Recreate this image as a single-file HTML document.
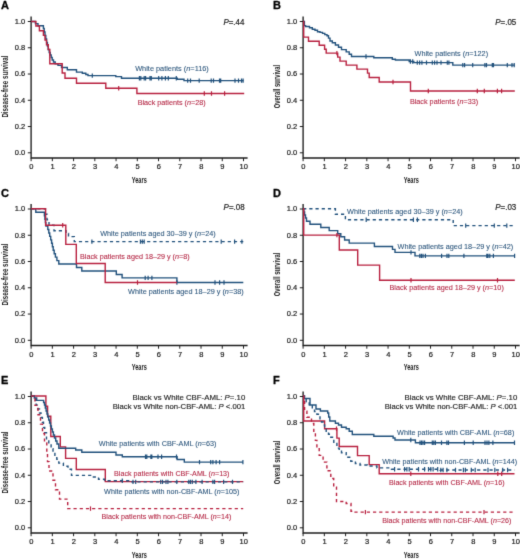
<!DOCTYPE html>
<html><head><meta charset="utf-8"><style>
html,body{margin:0;padding:0;background:#fff;width:520px;height:560px;overflow:hidden}
svg{display:block}
text{font-family:"Liberation Sans", sans-serif}
.tk{font-size:7.5px;fill:#1a1a1a;stroke:#1a1a1a;stroke-width:0.2px}
.ax{font-size:9px;fill:#1a1a1a;font-weight:bold}
.ltr{font-size:11px;font-weight:bold;fill:#000;stroke:#000;stroke-width:0.3px}
.lb{font-size:7.4px;stroke-width:0.1px}
.pv{font-size:8.3px;stroke:#222;stroke-width:0.2px}
.an{font-size:7.8px;stroke:#222;stroke-width:0.15px}
</style></head><body>
<svg width="520" height="560" viewBox="0 0 520 560">
<defs><filter id="bl" x="0" y="0" width="520" height="560" filterUnits="userSpaceOnUse" color-interpolation-filters="sRGB"><feConvolveMatrix order="3" kernelMatrix="0.0114 0.0841 0.0114 0.0841 0.6178 0.0841 0.0114 0.0841 0.0114" edgeMode="duplicate" preserveAlpha="true"/></filter></defs>
<g filter="url(#bl)">
<rect width="520" height="560" fill="#fff"/>
<path d="M31.1 16.4V158H247.6" fill="none" stroke="#1e1e1e" stroke-width="1.35"/>
<text x="25.2" y="155.25" text-anchor="end" class="tk">0.0</text>
<text x="25.2" y="128.99" text-anchor="end" class="tk">0.2</text>
<text x="25.2" y="102.73" text-anchor="end" class="tk">0.4</text>
<text x="25.2" y="76.47" text-anchor="end" class="tk">0.6</text>
<text x="25.2" y="50.21" text-anchor="end" class="tk">0.8</text>
<text x="25.2" y="23.95" text-anchor="end" class="tk">1.0</text>
<text x="31.3" y="169.4" text-anchor="middle" class="tk">0</text>
<text x="52.54" y="169.4" text-anchor="middle" class="tk">1</text>
<text x="73.78" y="169.4" text-anchor="middle" class="tk">2</text>
<text x="95.02" y="169.4" text-anchor="middle" class="tk">3</text>
<text x="116.26" y="169.4" text-anchor="middle" class="tk">4</text>
<text x="137.5" y="169.4" text-anchor="middle" class="tk">5</text>
<text x="158.74" y="169.4" text-anchor="middle" class="tk">6</text>
<text x="179.98" y="169.4" text-anchor="middle" class="tk">7</text>
<text x="201.22" y="169.4" text-anchor="middle" class="tk">8</text>
<text x="222.46" y="169.4" text-anchor="middle" class="tk">9</text>
<text x="243.7" y="169.4" text-anchor="middle" class="tk">10</text>
<path d="M27.8 152.8H31.1M27.8 126.54H31.1M27.8 100.28H31.1M27.8 74.02H31.1M27.8 47.76H31.1M27.8 21.5H31.1M31.1 158V161.2M52.34 158V161.2M73.58 158V161.2M94.82 158V161.2M116.06 158V161.2M137.3 158V161.2M158.54 158V161.2M179.78 158V161.2M201.02 158V161.2M222.26 158V161.2M243.5 158V161.2" stroke="#1e1e1e" stroke-width="1"/>
<text x="139.3" y="182.5" text-anchor="middle" class="ax" style="font-size:9.8px" textLength="15" lengthAdjust="spacingAndGlyphs">Years</text>
<text transform="translate(8.1 86.6) rotate(-90)" x="0" y="0" text-anchor="middle" class="ax" textLength="62" lengthAdjust="spacingAndGlyphs">Disease-free survival</text>
<text x="0.9" y="9.35" class="ltr">A</text>
<path d="M303.1 16.4V158H519.6" fill="none" stroke="#1e1e1e" stroke-width="1.35"/>
<text x="297.2" y="155.25" text-anchor="end" class="tk">0.0</text>
<text x="297.2" y="128.99" text-anchor="end" class="tk">0.2</text>
<text x="297.2" y="102.73" text-anchor="end" class="tk">0.4</text>
<text x="297.2" y="76.47" text-anchor="end" class="tk">0.6</text>
<text x="297.2" y="50.21" text-anchor="end" class="tk">0.8</text>
<text x="297.2" y="23.95" text-anchor="end" class="tk">1.0</text>
<text x="303.3" y="169.4" text-anchor="middle" class="tk">0</text>
<text x="324.54" y="169.4" text-anchor="middle" class="tk">1</text>
<text x="345.78" y="169.4" text-anchor="middle" class="tk">2</text>
<text x="367.02" y="169.4" text-anchor="middle" class="tk">3</text>
<text x="388.26" y="169.4" text-anchor="middle" class="tk">4</text>
<text x="409.5" y="169.4" text-anchor="middle" class="tk">5</text>
<text x="430.74" y="169.4" text-anchor="middle" class="tk">6</text>
<text x="451.98" y="169.4" text-anchor="middle" class="tk">7</text>
<text x="473.22" y="169.4" text-anchor="middle" class="tk">8</text>
<text x="494.46" y="169.4" text-anchor="middle" class="tk">9</text>
<text x="515.7" y="169.4" text-anchor="middle" class="tk">10</text>
<path d="M299.8 152.8H303.1M299.8 126.54H303.1M299.8 100.28H303.1M299.8 74.02H303.1M299.8 47.76H303.1M299.8 21.5H303.1M303.1 158V161.2M324.34 158V161.2M345.58 158V161.2M366.82 158V161.2M388.06 158V161.2M409.3 158V161.2M430.54 158V161.2M451.78 158V161.2M473.02 158V161.2M494.26 158V161.2M515.5 158V161.2" stroke="#1e1e1e" stroke-width="1"/>
<text x="411.3" y="182.5" text-anchor="middle" class="ax" style="font-size:9.8px" textLength="15" lengthAdjust="spacingAndGlyphs">Years</text>
<text transform="translate(280.1 86.6) rotate(-90)" x="0" y="0" text-anchor="middle" class="ax" textLength="43.5" lengthAdjust="spacingAndGlyphs">Overall survival</text>
<text x="272.9" y="9.35" class="ltr">B</text>
<path d="M31.1 203.9V345.5H247.6" fill="none" stroke="#1e1e1e" stroke-width="1.35"/>
<text x="25.2" y="342.75" text-anchor="end" class="tk">0.0</text>
<text x="25.2" y="316.49" text-anchor="end" class="tk">0.2</text>
<text x="25.2" y="290.23" text-anchor="end" class="tk">0.4</text>
<text x="25.2" y="263.97" text-anchor="end" class="tk">0.6</text>
<text x="25.2" y="237.71" text-anchor="end" class="tk">0.8</text>
<text x="25.2" y="211.45" text-anchor="end" class="tk">1.0</text>
<text x="31.3" y="356.9" text-anchor="middle" class="tk">0</text>
<text x="52.54" y="356.9" text-anchor="middle" class="tk">1</text>
<text x="73.78" y="356.9" text-anchor="middle" class="tk">2</text>
<text x="95.02" y="356.9" text-anchor="middle" class="tk">3</text>
<text x="116.26" y="356.9" text-anchor="middle" class="tk">4</text>
<text x="137.5" y="356.9" text-anchor="middle" class="tk">5</text>
<text x="158.74" y="356.9" text-anchor="middle" class="tk">6</text>
<text x="179.98" y="356.9" text-anchor="middle" class="tk">7</text>
<text x="201.22" y="356.9" text-anchor="middle" class="tk">8</text>
<text x="222.46" y="356.9" text-anchor="middle" class="tk">9</text>
<text x="243.7" y="356.9" text-anchor="middle" class="tk">10</text>
<path d="M27.8 340.3H31.1M27.8 314.04H31.1M27.8 287.78H31.1M27.8 261.52H31.1M27.8 235.26H31.1M27.8 209H31.1M31.1 345.5V348.7M52.34 345.5V348.7M73.58 345.5V348.7M94.82 345.5V348.7M116.06 345.5V348.7M137.3 345.5V348.7M158.54 345.5V348.7M179.78 345.5V348.7M201.02 345.5V348.7M222.26 345.5V348.7M243.5 345.5V348.7" stroke="#1e1e1e" stroke-width="1"/>
<text x="139.3" y="370" text-anchor="middle" class="ax" style="font-size:9.8px" textLength="15" lengthAdjust="spacingAndGlyphs">Years</text>
<text transform="translate(8.1 274.5) rotate(-90)" x="0" y="0" text-anchor="middle" class="ax" textLength="62" lengthAdjust="spacingAndGlyphs">Disease-free survival</text>
<text x="0.9" y="196.85" class="ltr">C</text>
<path d="M303.1 203.9V345.5H519.6" fill="none" stroke="#1e1e1e" stroke-width="1.35"/>
<text x="297.2" y="342.75" text-anchor="end" class="tk">0.0</text>
<text x="297.2" y="316.49" text-anchor="end" class="tk">0.2</text>
<text x="297.2" y="290.23" text-anchor="end" class="tk">0.4</text>
<text x="297.2" y="263.97" text-anchor="end" class="tk">0.6</text>
<text x="297.2" y="237.71" text-anchor="end" class="tk">0.8</text>
<text x="297.2" y="211.45" text-anchor="end" class="tk">1.0</text>
<text x="303.3" y="356.9" text-anchor="middle" class="tk">0</text>
<text x="324.54" y="356.9" text-anchor="middle" class="tk">1</text>
<text x="345.78" y="356.9" text-anchor="middle" class="tk">2</text>
<text x="367.02" y="356.9" text-anchor="middle" class="tk">3</text>
<text x="388.26" y="356.9" text-anchor="middle" class="tk">4</text>
<text x="409.5" y="356.9" text-anchor="middle" class="tk">5</text>
<text x="430.74" y="356.9" text-anchor="middle" class="tk">6</text>
<text x="451.98" y="356.9" text-anchor="middle" class="tk">7</text>
<text x="473.22" y="356.9" text-anchor="middle" class="tk">8</text>
<text x="494.46" y="356.9" text-anchor="middle" class="tk">9</text>
<text x="515.7" y="356.9" text-anchor="middle" class="tk">10</text>
<path d="M299.8 340.3H303.1M299.8 314.04H303.1M299.8 287.78H303.1M299.8 261.52H303.1M299.8 235.26H303.1M299.8 209H303.1M303.1 345.5V348.7M324.34 345.5V348.7M345.58 345.5V348.7M366.82 345.5V348.7M388.06 345.5V348.7M409.3 345.5V348.7M430.54 345.5V348.7M451.78 345.5V348.7M473.02 345.5V348.7M494.26 345.5V348.7M515.5 345.5V348.7" stroke="#1e1e1e" stroke-width="1"/>
<text x="411.3" y="370" text-anchor="middle" class="ax" style="font-size:9.8px" textLength="15" lengthAdjust="spacingAndGlyphs">Years</text>
<text transform="translate(280.1 274.5) rotate(-90)" x="0" y="0" text-anchor="middle" class="ax" textLength="43.5" lengthAdjust="spacingAndGlyphs">Overall survival</text>
<text x="272.9" y="196.85" class="ltr">D</text>
<path d="M31.1 391.4V533H247.6" fill="none" stroke="#1e1e1e" stroke-width="1.35"/>
<text x="25.2" y="530.25" text-anchor="end" class="tk">0.0</text>
<text x="25.2" y="503.99" text-anchor="end" class="tk">0.2</text>
<text x="25.2" y="477.73" text-anchor="end" class="tk">0.4</text>
<text x="25.2" y="451.47" text-anchor="end" class="tk">0.6</text>
<text x="25.2" y="425.21" text-anchor="end" class="tk">0.8</text>
<text x="25.2" y="398.95" text-anchor="end" class="tk">1.0</text>
<text x="31.3" y="544.4" text-anchor="middle" class="tk">0</text>
<text x="52.54" y="544.4" text-anchor="middle" class="tk">1</text>
<text x="73.78" y="544.4" text-anchor="middle" class="tk">2</text>
<text x="95.02" y="544.4" text-anchor="middle" class="tk">3</text>
<text x="116.26" y="544.4" text-anchor="middle" class="tk">4</text>
<text x="137.5" y="544.4" text-anchor="middle" class="tk">5</text>
<text x="158.74" y="544.4" text-anchor="middle" class="tk">6</text>
<text x="179.98" y="544.4" text-anchor="middle" class="tk">7</text>
<text x="201.22" y="544.4" text-anchor="middle" class="tk">8</text>
<text x="222.46" y="544.4" text-anchor="middle" class="tk">9</text>
<text x="243.7" y="544.4" text-anchor="middle" class="tk">10</text>
<path d="M27.8 527.8H31.1M27.8 501.54H31.1M27.8 475.28H31.1M27.8 449.02H31.1M27.8 422.76H31.1M27.8 396.5H31.1M31.1 533V536.2M52.34 533V536.2M73.58 533V536.2M94.82 533V536.2M116.06 533V536.2M137.3 533V536.2M158.54 533V536.2M179.78 533V536.2M201.02 533V536.2M222.26 533V536.2M243.5 533V536.2" stroke="#1e1e1e" stroke-width="1"/>
<text x="139.3" y="557.5" text-anchor="middle" class="ax" style="font-size:9.8px" textLength="15" lengthAdjust="spacingAndGlyphs">Years</text>
<text transform="translate(8.1 462.4) rotate(-90)" x="0" y="0" text-anchor="middle" class="ax" textLength="62" lengthAdjust="spacingAndGlyphs">Disease-free survival</text>
<text x="0.9" y="384.35" class="ltr">E</text>
<path d="M303.1 391.4V533H519.6" fill="none" stroke="#1e1e1e" stroke-width="1.35"/>
<text x="297.2" y="530.25" text-anchor="end" class="tk">0.0</text>
<text x="297.2" y="503.99" text-anchor="end" class="tk">0.2</text>
<text x="297.2" y="477.73" text-anchor="end" class="tk">0.4</text>
<text x="297.2" y="451.47" text-anchor="end" class="tk">0.6</text>
<text x="297.2" y="425.21" text-anchor="end" class="tk">0.8</text>
<text x="297.2" y="398.95" text-anchor="end" class="tk">1.0</text>
<text x="303.3" y="544.4" text-anchor="middle" class="tk">0</text>
<text x="324.54" y="544.4" text-anchor="middle" class="tk">1</text>
<text x="345.78" y="544.4" text-anchor="middle" class="tk">2</text>
<text x="367.02" y="544.4" text-anchor="middle" class="tk">3</text>
<text x="388.26" y="544.4" text-anchor="middle" class="tk">4</text>
<text x="409.5" y="544.4" text-anchor="middle" class="tk">5</text>
<text x="430.74" y="544.4" text-anchor="middle" class="tk">6</text>
<text x="451.98" y="544.4" text-anchor="middle" class="tk">7</text>
<text x="473.22" y="544.4" text-anchor="middle" class="tk">8</text>
<text x="494.46" y="544.4" text-anchor="middle" class="tk">9</text>
<text x="515.7" y="544.4" text-anchor="middle" class="tk">10</text>
<path d="M299.8 527.8H303.1M299.8 501.54H303.1M299.8 475.28H303.1M299.8 449.02H303.1M299.8 422.76H303.1M299.8 396.5H303.1M303.1 533V536.2M324.34 533V536.2M345.58 533V536.2M366.82 533V536.2M388.06 533V536.2M409.3 533V536.2M430.54 533V536.2M451.78 533V536.2M473.02 533V536.2M494.26 533V536.2M515.5 533V536.2" stroke="#1e1e1e" stroke-width="1"/>
<text x="411.3" y="557.5" text-anchor="middle" class="ax" style="font-size:9.8px" textLength="15" lengthAdjust="spacingAndGlyphs">Years</text>
<text transform="translate(280.1 462.4) rotate(-90)" x="0" y="0" text-anchor="middle" class="ax" textLength="43.5" lengthAdjust="spacingAndGlyphs">Overall survival</text>
<text x="272.9" y="384.35" class="ltr">F</text>
<path d="M31.1 21.5H35.4V23.6H38V25.7H43.4V28.5H44.2V32H45V35.5H45.8V39H46.6V42.5H47.4V46H48.2V49.5H49.2V52.5H50.2V55H51.2V57.5H52.2V60H53.5V62H55.2V63.8H58V65.4H61.5V67.5H67.3V69.8H76.5V72.1H82.3V73.3H85.8V74.5H88V75.6H115.8V76.6H121.5V78.3H177.3V79.3H184V80.6H243.5" fill="none" stroke="#21517c" stroke-width="1.4"/>
<path d="M92.3 73.4V77.8M139.4 76.1V80.5M140.8 76.1V80.5M144.2 76.1V80.5M145.6 76.1V80.5M150 76.1V80.5M151.3 76.1V80.5M158.7 76.1V80.5M161.9 76.1V80.5M165.4 76.1V80.5M168.3 76.1V80.5M176.3 76.1V80.5M187.7 78.4V82.8M190.5 78.4V82.8M199.2 78.4V82.8M211.2 78.4V82.8M213.5 78.4V82.8M219.5 78.4V82.8M220.7 78.4V82.8M235 78.4V82.8M238.5 78.4V82.8M241.5 78.4V82.8M243.1 78.4V82.8" stroke="#21517c" stroke-width="1.2"/>
<path d="M31.1 21.5H35.9V26H39.4V30.7H43.4V35.4H45V40.1H46.5V44.8H48.3V49.5H49.8V63.8H62.2V73H65V78.2H76.5V83.2H105.8V88.3H136.9V93.5H244.2" fill="none" stroke="#b8203f" stroke-width="1.4"/>
<path d="M118.7 86.1V90.5M204.3 91.3V95.7M211.5 91.3V95.7M224.6 91.3V95.7" stroke="#b8203f" stroke-width="1.2"/>
<text x="223.4" y="24.7" class="pv" fill="#222" textLength="21.0" lengthAdjust="spacingAndGlyphs"><tspan font-style="italic">P</tspan>=.44</text>
<text x="135.2" y="71.3" class="lb" fill="#30597f" stroke="#30597f" textLength="73.6" lengthAdjust="spacingAndGlyphs">White patients (<tspan font-style="italic">n</tspan>=116)</text>
<text x="137.7" y="104.8" class="lb" fill="#b52a47" stroke="#b52a47" textLength="68.0" lengthAdjust="spacingAndGlyphs">Black patients (<tspan font-style="italic">n</tspan>=28)</text>
<path d="M303.1 21.5H304.4V25.6H305.6V26.5H309.5V27.8H312.3V29.3H315V30.3H317.5V31.7H320V32.4H322.5V33.4H324.8V34.6H327V35.8H328.5V38.1H330V41H332.3V42.7H335.4V45H338.5V47.3H341.5V49.6H346.2V51.9H349.2V54.2H351.5V56.5H373.8V57.7H392.3V59.2H395.4V60H409.2V61.5H413.8V62.6H452.8V65.1H514.8" fill="none" stroke="#21517c" stroke-width="1.4"/>
<path d="M366 54.3V58.7M410.4 59.3V63.7M412.7 59.3V63.7M417.3 60.4V64.8M419.6 60.4V64.8M421.9 60.4V64.8M426.5 60.4V64.8M432.3 60.4V64.8M434.6 60.4V64.8M437 60.4V64.8M441 60.4V64.8M447.3 60.4V64.8M448.9 60.4V64.8M462.8 62.9V67.3M464.6 62.9V67.3M472.7 62.9V67.3M484.9 62.9V67.3M486.5 62.9V67.3M492.3 62.9V67.3M493.5 62.9V67.3M507.3 62.9V67.3M512 62.9V67.3M514.2 62.9V67.3" stroke="#21517c" stroke-width="1.2"/>
<path d="M303.1 21.5H303.7V37.1H308.5V41.2H319.2V45.2H324.6V49.2H326.2V53.1H337.7V57.1H340V61.1H346.2V65.1H356.9V69.1H367.5V73.1H369.2V77.5H379.2V82H410.5V91H514.8" fill="none" stroke="#b8203f" stroke-width="1.4"/>
<path d="M336.9 50.9V55.3M393 79.8V84.2M428.3 88.8V93.2M477.3 88.8V93.2M484.3 88.8V93.2M497.4 88.8V93.2M501.6 88.8V93.2" stroke="#b8203f" stroke-width="1.2"/>
<text x="495.3" y="24.7" class="pv" fill="#222" textLength="21.0" lengthAdjust="spacingAndGlyphs"><tspan font-style="italic">P</tspan>=.05</text>
<text x="414.5" y="56" class="lb" fill="#30597f" stroke="#30597f" textLength="73.6" lengthAdjust="spacingAndGlyphs">White patients (<tspan font-style="italic">n</tspan>=122)</text>
<text x="409.9" y="103.6" class="lb" fill="#b52a47" stroke="#b52a47" textLength="68.3" lengthAdjust="spacingAndGlyphs">Black patients (<tspan font-style="italic">n</tspan>=33)</text>
<path d="M31.1 208.8H45.4V214.3H47V219.8H49V225.2H54V230.7H66V233.5H68.5V236.6H74.3V241.6H243.3" fill="none" stroke="#21517c" stroke-width="1.4" stroke-dasharray="3.2 3"/>
<path d="M91.9 239.4V243.8M140.4 239.4V243.8M142.3 239.4V243.8M144.2 239.4V243.8M221.2 239.4V243.8M234.6 239.4V243.8M241.9 239.4V243.8" stroke="#21517c" stroke-width="1.2"/>
<path d="M31.1 208.8H35.8V212.3H44.4V215.7H44.9V219.2H45.4V222.6H45.9V226.1H47.8V229.5H48.8V233H49.7V236.4H50.7V239.9H51.6V243.3H52.4V246.8H53.2V250.2H54.2V253.7H55.4V257.1H56.9V260.6H58.8V264H76.5V267.5H81.8V271H116.3V274.5H122.1V277.9H176.9V282.5H243.3" fill="none" stroke="#21517c" stroke-width="1.4"/>
<path d="M145.2 275.7V280.1M148.1 275.7V280.1M151.9 275.7V280.1M176.9 280.3V284.7M215 280.3V284.7M219.6 280.3V284.7M224 280.3V284.7" stroke="#21517c" stroke-width="1.2"/>
<path d="M31.1 208.8H45.6V225.2H65.8V244.4H76.3V263.5H105.2V282.5H176.9" fill="none" stroke="#b8203f" stroke-width="1.4"/>
<path d="M62.7 223V227.4M137.5 280.3V284.7" stroke="#b8203f" stroke-width="1.2"/>
<text x="223.6" y="209.6" class="pv" fill="#222" textLength="21.0" lengthAdjust="spacingAndGlyphs"><tspan font-style="italic">P</tspan>=.08</text>
<text x="100.2" y="236.3" class="lb" fill="#30597f" stroke="#30597f" textLength="115.6" lengthAdjust="spacingAndGlyphs">White patients aged 30–39 y (<tspan font-style="italic">n</tspan>=24)</text>
<text x="80" y="259.3" class="lb" fill="#b52a47" stroke="#b52a47" textLength="109.6" lengthAdjust="spacingAndGlyphs">Black patients aged 18–29 y (<tspan font-style="italic">n</tspan>=8)</text>
<text x="128.1" y="294.1" class="lb" fill="#30597f" stroke="#30597f" textLength="115.6" lengthAdjust="spacingAndGlyphs">White patients aged 18–29 y (<tspan font-style="italic">n</tspan>=38)</text>
<path d="M303.1 208.8H335.4V214.3H345.4V219.8H453.2V225.6H514" fill="none" stroke="#21517c" stroke-width="1.4" stroke-dasharray="3.2 3"/>
<path d="M366.2 217.6V222M413.4 217.6V222M417.4 217.6V222M465.7 223.4V227.8M494.3 223.4V227.8M506.8 223.4V227.8" stroke="#21517c" stroke-width="1.2"/>
<path d="M303.1 208.8H303.8V212H304.6V215H305.5V218H306.5V221.2H310V224.3H320.8V227.5H329.2V230.6H337.7V233.7H340.8V236.8H344.6V240H349.2V243.1H374.4V246.5H392.5V249.4H395V252.4H415V255.9H514.8" fill="none" stroke="#21517c" stroke-width="1.4"/>
<path d="M411 250.2V254.6M419.8 253.7V258.1M421.4 253.7V258.1M423 253.7V258.1M425.4 253.7V258.1M441.6 253.7V258.1M447 253.7V258.1M448.8 253.7V258.1M463.9 253.7V258.1M486.8 253.7V258.1M488 253.7V258.1M489.8 253.7V258.1M493.4 253.7V258.1M514.6 253.7V258.1" stroke="#21517c" stroke-width="1.2"/>
<path d="M303.1 208.8H303.7V235.1H339.3V250H357.7V265.1H379.6V280.2H514.8" fill="none" stroke="#b8203f" stroke-width="1.4"/>
<path d="M336.9 232.9V237.3M411 278V282.4M497.5 278V282.4" stroke="#b8203f" stroke-width="1.2"/>
<text x="495.3" y="209.6" class="pv" fill="#222" textLength="21.0" lengthAdjust="spacingAndGlyphs"><tspan font-style="italic">P</tspan>=.03</text>
<text x="347.1" y="214.2" class="lb" fill="#30597f" stroke="#30597f" textLength="115.6" lengthAdjust="spacingAndGlyphs">White patients aged 30–39 y (<tspan font-style="italic">n</tspan>=24)</text>
<text x="397.5" y="248.7" class="lb" fill="#30597f" stroke="#30597f" textLength="115.8" lengthAdjust="spacingAndGlyphs">White patients aged 18–29 y (<tspan font-style="italic">n</tspan>=42)</text>
<text x="389.5" y="290.4" class="lb" fill="#b52a47" stroke="#b52a47" textLength="114.3" lengthAdjust="spacingAndGlyphs">Black patients aged 18–29 y (<tspan font-style="italic">n</tspan>=10)</text>
<path d="M31.1 396H45.9V406.2H47.6V416.3H50.8V436.5H60.3V446.9H65.6V458.4H76.3V469.5H105.3V481.6H243.2" fill="none" stroke="#b8203f" stroke-width="1.4"/>
<path d="M31.1 396H34.3V398H36.7V400.4H43.6V402.5H44.5V405H45.3V408H46.1V411H47V414H47.8V417H48.7V420H49.6V423H50.5V426H51.4V429H52.4V432H53.4V435H54.5V438H55.7V441H57V444H58.8V448.2H75.7V450H81.8V452.3H116V455H122.3V456.8H177.1V459.5H184.3V462.1H243" fill="none" stroke="#21517c" stroke-width="1.4"/>
<path d="M145.5 454.6V459M146.8 454.6V459M150.9 454.6V459M151.8 454.6V459M158 454.6V459M161.6 454.6V459M176.5 454.6V459M199.5 459.9V464.3M210.7 459.9V464.3M212.9 459.9V464.3M216.1 459.9V464.3M219.6 459.9V464.3M242.9 459.9V464.3" stroke="#21517c" stroke-width="1.2"/>
<path d="M31.1 396H34.9V397.5H35.6V401H36.1V405H37.8V409H39.5V413H41V417.5H42.4V422.3H43.5V427.5H44.7V432.7H46.5V439.6H48.8V444.2H51.1V448.8H53V452H54.9V455.4H56.8V459.3H58.8V463.1H63.4V466.2H68V469.2H71.5V475.4H92.3V477H98.5V479.2H104.6V480.8H130V481.9H243.2" fill="none" stroke="#21517c" stroke-width="1.4" stroke-dasharray="3.2 3"/>
<path d="M122.3 478.6V483M133 479.7V484.1M135.7 479.7V484.1M160.7 479.7V484.1M162.5 479.7V484.1M166 479.7V484.1M167.9 479.7V484.1M176.8 479.7V484.1M188.8 479.7V484.1M190.5 479.7V484.1M192.3 479.7V484.1M195.9 479.7V484.1M202.1 479.7V484.1M212.9 479.7V484.1M214.6 479.7V484.1M223.6 479.7V484.1M232.5 479.7V484.1" stroke="#21517c" stroke-width="1.2"/>
<path d="M31.1 396H35V405.4H38V414.7H40.5V424.1H42.5V433.5H44.5V442.9H46.8V452.2H47.5V461.6H49V471H53V480.3H55.5V489.7H59.5V499.1H67.7V508.6H243.2" fill="none" stroke="#b8203f" stroke-width="1.4" stroke-dasharray="3.2 3"/>
<path d="M90.5 506.4V510.8" stroke="#b8203f" stroke-width="1.2"/>
<text x="245.3" y="400" class="an" fill="#222" text-anchor="end" textLength="112.8" lengthAdjust="spacingAndGlyphs">Black vs White CBF-AML: <tspan font-style="italic">P</tspan>=.10</text>
<text x="245.3" y="409.1" class="an" fill="#222" text-anchor="end" textLength="132.6" lengthAdjust="spacingAndGlyphs">Black vs White non-CBF-AML: <tspan font-style="italic">P</tspan> &lt;.001</text>
<text x="98.8" y="446.3" class="lb" fill="#30597f" stroke="#30597f" textLength="117.6" lengthAdjust="spacingAndGlyphs">White patients with CBF-AML (<tspan font-style="italic">n</tspan>=63)</text>
<text x="114.1" y="476.1" class="lb" fill="#b52a47" stroke="#b52a47" textLength="115.4" lengthAdjust="spacingAndGlyphs">Black patients with CBF-AML (<tspan font-style="italic">n</tspan>=13)</text>
<text x="104.1" y="494" class="lb" fill="#30597f" stroke="#30597f" textLength="135.2" lengthAdjust="spacingAndGlyphs">White patients with non-CBF-AML (<tspan font-style="italic">n</tspan>=105)</text>
<text x="101.6" y="519" class="lb" fill="#b52a47" stroke="#b52a47" textLength="129.8" lengthAdjust="spacingAndGlyphs">Black patients with non-CBF-AML (<tspan font-style="italic">n</tspan>=14)</text>
<path d="M303.1 396H304V398.5H310V405H316V409H320.4V411H327.7V413H328.7V417H329.8V421H335.4V423.2H338.5V425H341.5V427.3H346.2V428.8H349.2V431.2H352.3V434.5H373.8V436.2H393.1V438H395V440H415.4V442.8H514.5" fill="none" stroke="#21517c" stroke-width="1.4"/>
<path d="M410.8 437.8V442.2M420 440.6V445M421.5 440.6V445M423 440.6V445M424.6 440.6V445M432.3 440.6V445M433.8 440.6V445M435.4 440.6V445M441.5 440.6V445M446.9 440.6V445M448.5 440.6V445M464.4 440.6V445M473.2 440.6V445M485 440.6V445M487 440.6V445M488.9 440.6V445M492.9 440.6V445M514.5 440.6V445" stroke="#21517c" stroke-width="1.2"/>
<path d="M303.1 396H303.7V421H324.6V428.8H336.9V438.1H339.2V446.5H357.5V455.6H369.2V464.6H379.2V473.7H514.5" fill="none" stroke="#b8203f" stroke-width="1.4"/>
<path d="M336.5 426.6V431M410.8 471.5V475.9M497.8 471.5V475.9M501.7 471.5V475.9" stroke="#b8203f" stroke-width="1.2"/>
<path d="M303.1 396H304.6V398.8H306.2V401.9H309.2V405.8H312.3V408.8H314.5V411.5H316.9V414.2H320V418.8H321.5V422H323V425H324.6V428H326.2V431.2H328.5V434.3H330.8V437.3H333.8V443.5H336.9V448.1H339.2V450.4H341.5V452.7H346.2V457.3H350.8V461.2H355.4V463.5H360V465H367.3V466H376.9V467.9H391.5V469.2H440V470H514.5" fill="none" stroke="#21517c" stroke-width="1.4" stroke-dasharray="3.2 3"/>
<path d="M394.6 467V471.4M404.6 467V471.4M406.9 467V471.4M409.2 467V471.4M418.5 467V471.4M424.6 467V471.4M428.5 467V471.4M430.8 467V471.4M433.1 467V471.4M437.7 467V471.4M440.8 467.8V472.2M443.1 467.8V472.2M446.9 467.8V472.2M455.5 467.8V472.2M463.4 467.8V472.2M465.4 467.8V472.2M471.3 467.8V472.2M475.2 467.8V472.2M488 467.8V472.2M494.8 467.8V472.2M502.7 467.8V472.2M507.6 467.8V472.2" stroke="#21517c" stroke-width="1.2"/>
<path d="M303.1 396H303.8V400.4H304.6V411.2H306.9V417.3H311.5V423.5H313.8V431.2H315.4V440.4H316.9V448.1H319.2V455.4H323.1V462.1H326.9V470.8H330.8V478.5H333.7V487.1H336.5V501.5H346.2V503.5H351V511.2H352.9V512.1H514.5" fill="none" stroke="#b8203f" stroke-width="1.4" stroke-dasharray="3.2 3"/>
<path d="M365.4 509.9V514.3M484 509.9V514.3" stroke="#b8203f" stroke-width="1.2"/>
<text x="517.3" y="400" class="an" fill="#222" text-anchor="end" textLength="112.8" lengthAdjust="spacingAndGlyphs">Black vs White CBF-AML: <tspan font-style="italic">P</tspan>=.10</text>
<text x="517.3" y="409.1" class="an" fill="#222" text-anchor="end" textLength="132.6" lengthAdjust="spacingAndGlyphs">Black vs White non-CBF-AML: <tspan font-style="italic">P</tspan> &lt;.001</text>
<text x="397.1" y="434.9" class="lb" fill="#30597f" stroke="#30597f" textLength="117.2" lengthAdjust="spacingAndGlyphs">White patients with CBF-AML (<tspan font-style="italic">n</tspan>=68)</text>
<text x="382.2" y="464.3" class="lb" fill="#30597f" stroke="#30597f" textLength="135.0" lengthAdjust="spacingAndGlyphs">White patients with non-CBF-AML (<tspan font-style="italic">n</tspan>=144)</text>
<text x="389" y="485.4" class="lb" fill="#b52a47" stroke="#b52a47" textLength="115.6" lengthAdjust="spacingAndGlyphs">Black patients with CBF-AML (<tspan font-style="italic">n</tspan>=16)</text>
<text x="382.2" y="522.6" class="lb" fill="#b52a47" stroke="#b52a47" textLength="129.2" lengthAdjust="spacingAndGlyphs">Black patients with non-CBF-AML (<tspan font-style="italic">n</tspan>=26)</text>
</g>
</svg>
</body></html>
